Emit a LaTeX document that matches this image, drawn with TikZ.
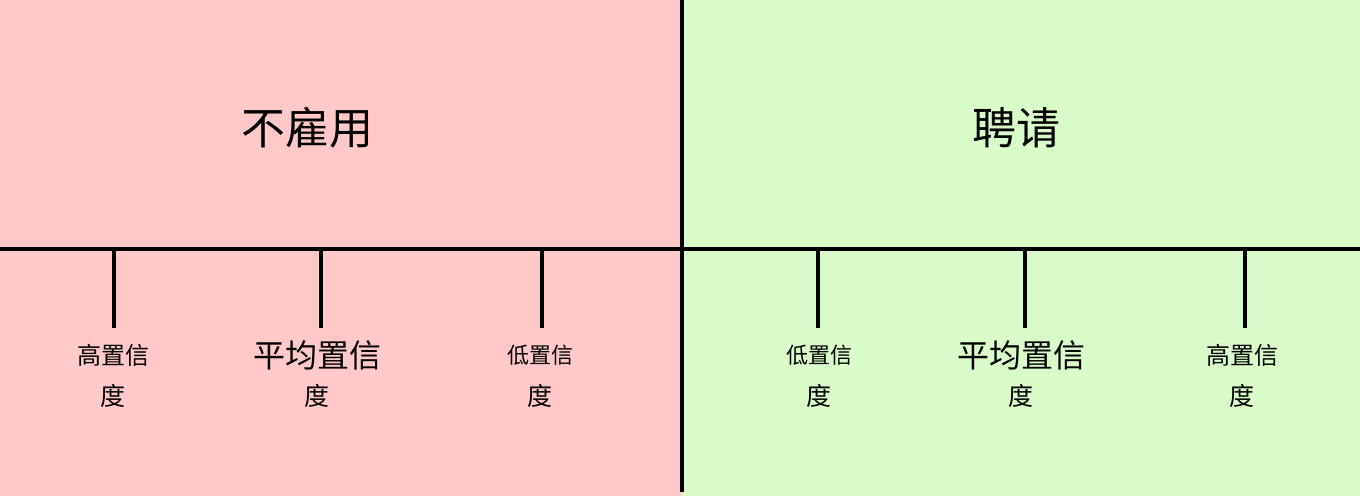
\documentclass[tikz,border=0pt]{standalone}
\usepackage{fontspec}
\setmainfont{Noto Sans CJK SC}
\definecolor{nohirebg}{RGB}{255,201,201}
\definecolor{hirebg}{RGB}{217,250,201}
\tikzset{inner sep=0pt, outer sep=0pt}
\tikzset{
  axisline/.style={line width=3.5pt, black},
  tickline/.style={line width=3.5pt, black},
  headlabel/.style={font=\fontsize{44}{44}\selectfont},
  unitlabel/.style={font=\fontsize{25}{25}\selectfont}
}

\begin{document}
\begin{tikzpicture}[x=1pt, y=-1pt]
\fill[nohirebg] (0,0) rectangle (682,496);
\fill[hirebg] (682,0) rectangle (1360,496);
\useasboundingbox (0,0) rectangle (1360,496);
\node[headlabel] (nohire) at (307,128) {不雇用};
\node[headlabel] (hire) at (1016,128) {聘请};
\coordinate (axisW) at (0,249);
\coordinate (axisE) at (1360,249);
\coordinate (splitN) at (682,0);
\coordinate (splitS) at (682,492);
\draw[axisline] (axisW) -- (axisE);
\draw[axisline] (splitN) -- (splitS);
\foreach \name/\x/\lx/\size/\txt in {nhhigh/114/113/24/高置信, nhavg/321/317/32/平均置信, nhlow/542/540/22/低置信,
    hlow/818/819/22/低置信, havg/1025/1021/32/平均置信, hhigh/1245/1242/24/高置信} {
  \coordinate (\name top) at (\x,249);
  \coordinate (\name bot) at (\x,328);
  \draw[tickline] (\name top) -- (\name bot);
  \node[font=\fontsize{\size}{\size}\selectfont] (\name) at (\lx,355) {\txt};
  \node[unitlabel] (\name deg) at (\lx,396) {度};
} % end of \foreach \name
\end{tikzpicture}
\end{document}
